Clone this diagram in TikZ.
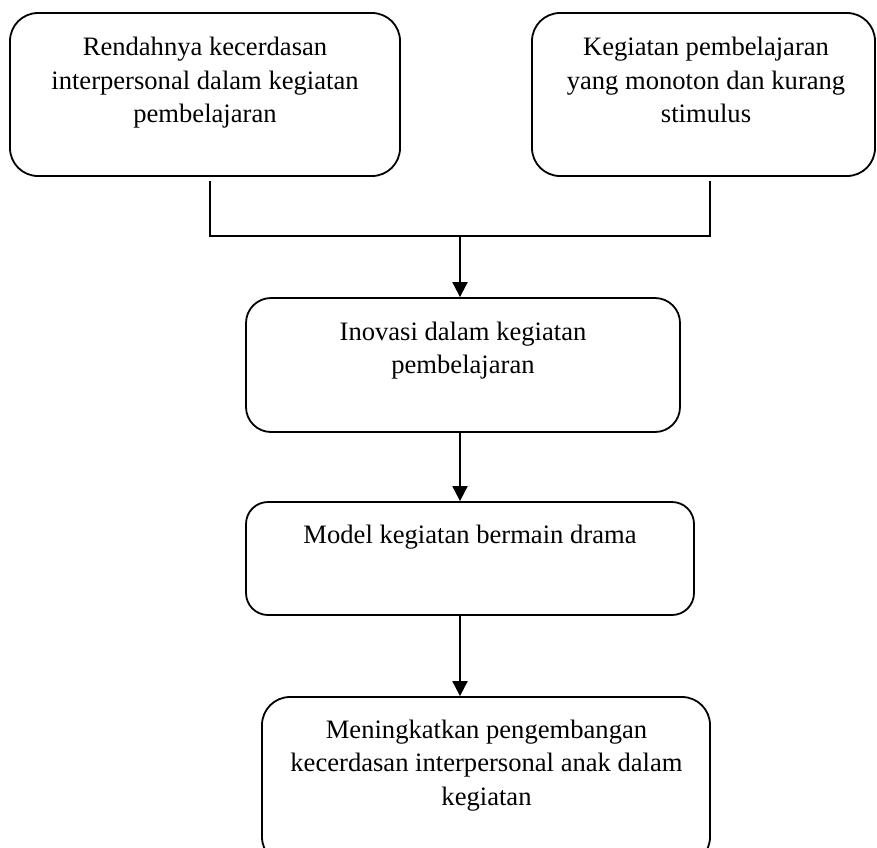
\documentclass[tikz,border=0pt]{standalone}
\usepackage{fontspec}
\setmainfont{Liberation Serif}
\usetikzlibrary{arrows.meta}
\begin{document}
\begin{tikzpicture}[x=1pt,y=1pt,
  box/.style={draw, line width=1.8pt, rounded corners=#1, inner sep=0pt, minimum width=0pt},
  box/.default=28pt,
  txt/.style={anchor=base, inner sep=0pt, font=\fontsize{26.6}{33.5}\selectfont},
  conn/.style={line width=1.4pt},
  arr/.style={line width=1.9pt, -{Triangle[length=15pt,width=15pt]}}]
\useasboundingbox (0,0) rectangle (877,-847);
\begin{scope}
\clip (0,0) rectangle (877,-847);
\node[box, minimum width=390pt, minimum height=163pt] (b1) at (205,-94.5) {};
\node[box, minimum width=343pt, minimum height=163pt] (b2) at (703.5,-94.5) {};
\node[box=25pt, minimum width=434pt, minimum height=134pt] (b3) at (463,-365) {};
\node[box=22pt, minimum width=448pt, minimum height=113pt] (b4) at (470,-558.5) {};
\node[box=28pt, minimum width=448pt, minimum height=168pt] (b5) at (486,-781) {};
\end{scope}
\node[txt] (t1) at (205,-55.5) {\begin{tabular}[t]{@{}c@{}}Rendahnya kecerdasan\\interpersonal dalam kegiatan\\pembelajaran\end{tabular}};
\node[txt] (t2) at (706,-55.5) {\begin{tabular}[t]{@{}c@{}}Kegiatan pembelajaran\\yang monoton dan kurang\\stimulus\end{tabular}};
\node[txt] (t3) at (463,-340) {\begin{tabular}[t]{@{}c@{}}Inovasi dalam kegiatan\\pembelajaran\end{tabular}};
\node[txt] (t4) at (470,-543) {Model kegiatan bermain drama};
\node[txt] (t5) at (486.5,-738) {\begin{tabular}[t]{@{}c@{}}Meningkatkan pengembangan\\kecerdasan interpersonal anak dalam\\kegiatan\end{tabular}};
\coordinate (j) at (460,-236);
\coordinate (l) at (210,-236);
\coordinate (r) at (710,-236);
\draw[conn, shorten <=4pt, shorten >=4pt] (b1.south -| l) -- (l) -- (r) -- (b2.south -| r);
\draw[arr] (j) -- (b3.north -| j);
\draw[arr] (b3.south -| j) -- (b4.north -| j);
\draw[arr] (b4.south -| j) -- (b5.north -| j);
\end{tikzpicture}
\end{document}
